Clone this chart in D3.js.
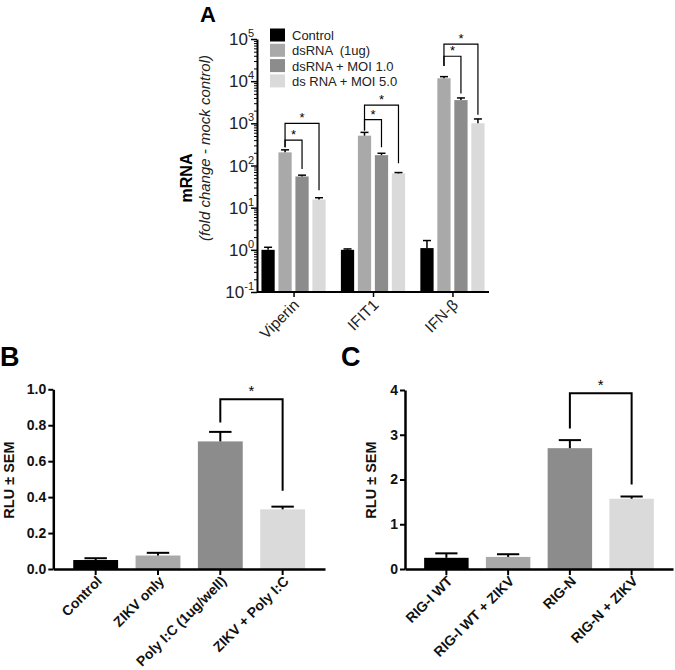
<!DOCTYPE html>
<html><head><meta charset="utf-8">
<script src="https://cdn.jsdelivr.net/npm/d3@7/dist/d3.min.js"></script>
<style>
body{margin:0;background:#fff;}
svg{display:block;font-family:"Liberation Sans",Arial,Helvetica,sans-serif;}
</style></head>
<body><svg id="c" width="675" height="670"></svg>
<script>
// ---------- Panel A data ----------
const aGroups = ["Viperin", "IFIT1", "IFN-β"];
const aSeries = ["Control", "dsRNA  (1ug)", "dsRNA + MOI 1.0", "ds RNA + MOI 5.0"];
const aColors = ["#000000", "#a9a9a9", "#8c8c8c", "#dadada"];
const aValues = [[1.0, 205, 55, 15.6], [1.0, 510, 176, 65], [1.1, 11700, 3560, 1000]];
const aErrTop = [[1.15, 235, 59, 17.2], [1.05, 610, 195, 68], [1.66, 12800, 4000, 1270]];
const aTicks = [0.1, 1, 10, 100, 1000, 10000, 100000];
const aTickExp = ["-1", "0", "1", "2", "3", "4", "5"];
// brackets: group, from series, to series, top, left-leg bottom, right-leg bottom
const aBrackets = [
  {g: 0, from: 1, to: 3, top: 1000, left: 270, right: 26},
  {g: 0, from: 1, to: 2, top: 400, left: 270, right: 83},
  {g: 1, from: 1, to: 3, top: 2700, left: 680, right: 113},
  {g: 1, from: 1, to: 2, top: 1230, left: 680, right: 270},
  {g: 2, from: 1, to: 3, top: 76000, left: 23000, right: 1600},
  {g: 2, from: 1, to: 2, top: 39000, left: 23000, right: 5100}
];

// ---------- Panel B data ----------
const bCats = ["Control", "ZIKV only", "Poly I:C (1ug/well)", "ZIKV + Poly I:C"];
const bValues = [0.05, 0.075, 0.71, 0.332];
const bErrTop = [0.06, 0.09, 0.763, 0.347];
const bTicks = [0, 0.2, 0.4, 0.6, 0.8, 1.0];
const bBracket = {from: 2, to: 3, top: 0.945, left: 0.815, right: 0.435};

// ---------- Panel C data ----------
const cCats = ["RIG-I WT", "RIG-I WT + ZIKV", "RIG-N", "RIG-N + ZIKV"];
const cValues = [0.25, 0.27, 2.70, 1.57];
const cErrTop = [0.35, 0.33, 2.88, 1.62];
const cTicks = [0, 1, 2, 3, 4];
const cBracket = {from: 2, to: 3, top: 3.93, left: 3.14, right: 1.89};

const barColors = ["#000000", "#a9a9a9", "#8c8c8c", "#dadada"];

const svg = d3.select("#c");

// ================= PANEL A =================
(function(){
  const g = svg.append("g");
  const x0 = d3.scalePoint().domain(aGroups).range([257, 489]).padding(0.46);
  const x1 = d3.scaleBand().domain(d3.range(aSeries.length)).range([-32.1, 32.1]).paddingInner(0.22);
  const y = d3.scaleLog().domain([0.1, 1e5]).range([292, 39]);
  const base = y(0.1);

  aGroups.forEach((grp, gi) => {
    aValues[gi].forEach((v, si) => {
      const cx = x0(grp) + x1(si);
      g.append("rect").attr("x", cx).attr("y", y(v)).attr("width", x1.bandwidth())
        .attr("height", base - y(v)).attr("fill", aColors[si]);
      const mx = cx + x1.bandwidth() / 2;
      g.append("line").attr("x1", mx).attr("x2", mx).attr("y1", y(v)).attr("y2", y(aErrTop[gi][si]))
        .attr("stroke", "#000").attr("stroke-width", 1.5);
      g.append("line").attr("x1", mx - 4).attr("x2", mx + 4).attr("y1", y(aErrTop[gi][si])).attr("y2", y(aErrTop[gi][si]))
        .attr("stroke", "#000").attr("stroke-width", 1.5);
    });
  });

  aBrackets.forEach(b => {
    const xl = x0(aGroups[b.g]) + x1(b.from) + x1.bandwidth() / 2;
    const xr = x0(aGroups[b.g]) + x1(b.to) + x1.bandwidth() / 2;
    g.append("path").attr("d", `M${xl},${y(b.left)}V${y(b.top)}H${xr}V${y(b.right)}`)
      .attr("fill", "none").attr("stroke", "#000").attr("stroke-width", 1.2);
    g.append("text").attr("x", (xl + xr) / 2).attr("y", y(b.top) - 1).attr("text-anchor", "middle")
      .attr("font-size", 13).text("*");
  });

  const ya = g.append("g").attr("transform", "translate(257,0)")
    .call(d3.axisLeft(y).tickValues(aTicks).tickFormat("").tickSize(6).tickSizeOuter(0));
  ya.select(".domain").attr("stroke-width", 2);
  ya.selectAll(".tick line").attr("stroke-width", 1.5);
  const minor = y.ticks().filter(t => !aTicks.some(m => Math.abs(m - t) / t < 1e-6));
  const ym = g.append("g").attr("transform", "translate(257,0)")
    .call(d3.axisLeft(y).tickValues(minor).tickFormat("").tickSize(3));
  ym.select(".domain").remove();
  ym.selectAll(".tick line").attr("stroke-width", 1);

  aTicks.forEach((t, i) => {
    const tx = g.append("text").attr("x", 254).attr("y", y(t) + 6).attr("text-anchor", "end")
      .attr("font-size", 17).attr("fill", "#222");
    tx.append("tspan").text("10");
    tx.append("tspan").attr("font-size", 11).attr("dy", -8).text(aTickExp[i]);
  });

  const xa = g.append("g").attr("transform", `translate(0,${base})`)
    .call(d3.axisBottom(x0).tickSize(5).tickSizeOuter(0));
  xa.select(".domain").attr("d", `M257,0H489`).attr("stroke-width", 2);
  xa.selectAll(".tick line").attr("stroke-width", 1.5);
  xa.selectAll(".tick text").attr("font-size", 15.5).attr("fill", "#222")
    .attr("text-anchor", "end").attr("dy", 0).attr("y", 0)
    .attr("transform", "translate(6,14) rotate(-45)");

  aSeries.forEach((s, i) => {
    const ly = 35 + i * 15.3;
    g.append("rect").attr("x", 270).attr("y", ly - 6.5).attr("width", 15).attr("height", 13).attr("fill", aColors[i]);
    g.append("text").attr("x", 292).attr("y", ly + 5).attr("font-size", 13).attr("fill", "#222")
      .style("white-space", "pre").text(s);
  });

  g.append("text").attr("transform", "translate(192,178) rotate(-90)").attr("text-anchor", "middle")
    .attr("font-size", 16).attr("font-weight", "bold").text("mRNA");
  g.append("text").attr("transform", "translate(210,148) rotate(-90)").attr("text-anchor", "middle")
    .attr("font-size", 15).attr("font-style", "italic").attr("fill", "#222").text("(fold change - mock control)");

  svg.append("text").attr("x", 200).attr("y", 22).attr("font-size", 22).attr("font-weight", "bold").text("A");
})();

// ================= PANELS B & C =================
function barPanel(cfg){
  const g = svg.append("g");
  const x = d3.scaleBand().domain(cfg.cats).range([cfg.x0, cfg.x1]).paddingInner(0.28).paddingOuter(cfg.po);
  const y = d3.scaleLinear().domain([0, cfg.max]).range([569, cfg.yTop]);
  const bw = x.bandwidth();

  cfg.cats.forEach((c, i) => {
    g.append("rect").attr("x", x(c)).attr("y", y(cfg.values[i])).attr("width", bw)
      .attr("height", y(0) - y(cfg.values[i])).attr("fill", barColors[i]);
    const mx = x(c) + bw / 2;
    g.append("line").attr("x1", mx).attr("x2", mx).attr("y1", y(cfg.values[i])).attr("y2", y(cfg.err[i]))
      .attr("stroke", "#000").attr("stroke-width", 2);
    g.append("line").attr("x1", mx - bw / 4).attr("x2", mx + bw / 4).attr("y1", y(cfg.err[i])).attr("y2", y(cfg.err[i]))
      .attr("stroke", "#000").attr("stroke-width", 2);
  });

  const b = cfg.bracket;
  const xl = x(cfg.cats[b.from]) + bw / 2, xr = x(cfg.cats[b.to]) + bw / 2;
  g.append("path").attr("d", `M${xl},${y(b.left)}V${y(b.top)}H${xr}V${y(b.right)}`)
    .attr("fill", "none").attr("stroke", "#000").attr("stroke-width", 2);
  g.append("text").attr("x", (xl + xr) / 2).attr("y", y(b.top) - 3).attr("text-anchor", "middle")
    .attr("font-size", 15).text("*");

  const ya = g.append("g").attr("transform", `translate(${cfg.x0},0)`)
    .call(d3.axisLeft(y).tickValues(cfg.ticks).tickFormat(cfg.fmt).tickSize(5).tickSizeOuter(0).tickPadding(2));
  ya.select(".domain").attr("stroke-width", 2.5);
  ya.selectAll(".tick line").attr("stroke-width", 2);
  ya.selectAll(".tick text").attr("font-size", 14).attr("font-weight", "bold").attr("fill", "#111");

  const xa = g.append("g").attr("transform", "translate(0,569)")
    .call(d3.axisBottom(x).tickSize(6).tickSizeOuter(0));
  xa.select(".domain").attr("stroke-width", 2.5);
  xa.selectAll(".tick line").attr("stroke-width", 2);
  xa.selectAll(".tick text").attr("font-size", 14).attr("font-weight", "bold").attr("fill", "#111")
    .attr("text-anchor", "end").attr("dy", 0).attr("y", 0)
    .attr("transform", "translate(7,13) rotate(-45)");

  g.append("text").attr("transform", `translate(${cfg.labX},480) rotate(-90)`).attr("text-anchor", "middle")
    .attr("font-size", 14.5).attr("font-weight", "bold").attr("fill", "#111").text("RLU ± SEM");
  svg.append("text").attr("x", cfg.letterX).attr("y", 366).attr("font-size", 27).attr("font-weight", "bold").text(cfg.letter);
}

barPanel({cats: bCats, values: bValues, err: bErrTop, ticks: bTicks, bracket: bBracket, max: 1.0,
  x0: 53.3, x1: 325, po: 0.32, yTop: 389.3, fmt: d3.format(".1f"), labX: 14, letter: "B", letterX: 0});
barPanel({cats: cCats, values: cValues, err: cErrTop, ticks: cTicks, bracket: cBracket, max: 4,
  x0: 405, x1: 673, po: 0.31, yTop: 390, fmt: d3.format("d"), labX: 376, letter: "C", letterX: 341});
</script></body></html>
